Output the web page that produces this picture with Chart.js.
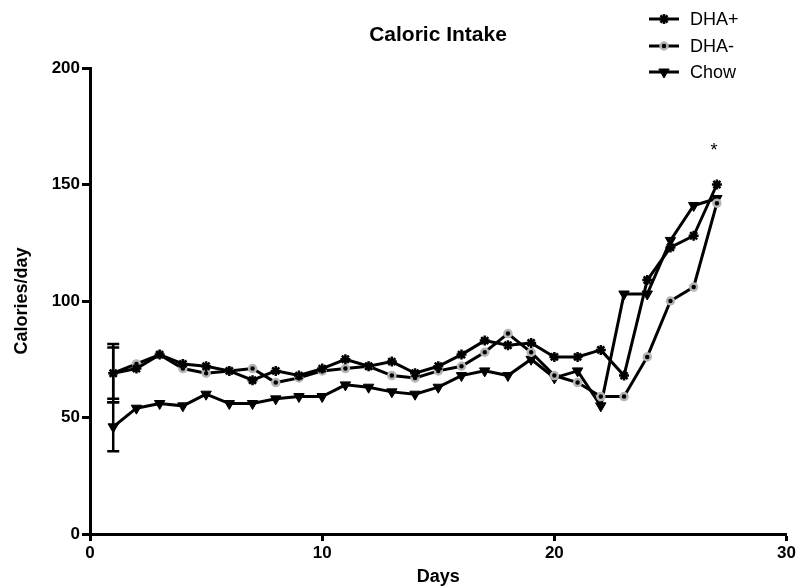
<!DOCTYPE html>
<html>
<head>
<meta charset="utf-8">
<title>Caloric Intake</title>
<script src="https://cdn.jsdelivr.net/npm/chart.js@4/dist/chart.umd.min.js"></script>
<style>
  html, body { margin: 0; padding: 0; background: #fff; }
  canvas { display: block; }
</style>
</head>
<body>
<canvas id="chart" width="798" height="586"></canvas>
<script>
// Daily caloric intake per group (calories/day)
const days = [1, 2, 3, 4, 5, 6, 7, 8, 9, 10, 11, 12, 13, 14, 15, 16, 17, 18, 19, 20, 21, 22, 23, 24, 25, 26, 27];
const dhaPlus  = [69, 71, 77, 73, 72, 70, 66, 70, 68, 71, 75, 72, 74, 69, 72, 77, 83, 81, 82, 76, 76, 79, 68, 109, 123, 128, 150];
const dhaMinus = [69, 73, 77, 71, 69, 70, 71, 65, 67, 70, 71, 72, 68, 67, 70, 72, 78, 86, 78, 68, 65, 59, 59, 76, 100, 106, 142];
const chow     = [46, 54, 56, 55, 60, 56, 56, 58, 59, 59, 64, 63, 61, 60, 63, 68, 70, 68, 75, 67, 70, 55, 103, 103, 126, 141, 144];

// Error (SEM) shown on day 1 only
const errorDay = 1;
const dhaPlusErr = 12.5;
const dhaMinusErr = 11;
const chowErr = 10.5;

// Significance marker
const sigDay = 27;
const sigValue = 166;
const sigText = '*';

const xTicks = [0, 10, 20, 30];
const yTicks = [0, 50, 100, 150, 200];

const FONT = "'Liberation Sans', Arial, Helvetica, sans-serif";

const toPoints = (ys) => days.map((d, i) => ({ x: d, y: ys[i] }));

const datasets = [
  {
    label: 'DHA+',
    data: toPoints(dhaPlus),
    err: dhaPlusErr,
    borderColor: '#000',
    borderWidth: 3,
    pointStyle: 'star',
    pointRadius: 5,
    pointBorderWidth: 2.5,
    pointBorderColor: '#000',
    pointBackgroundColor: '#000'
  },
  {
    label: 'DHA-',
    data: toPoints(dhaMinus),
    err: dhaMinusErr,
    borderColor: '#000',
    borderWidth: 3,
    pointStyle: 'circle',
    pointRadius: 3.5,
    pointBorderWidth: 2.5,
    pointBorderColor: '#b5b5b5',
    pointBackgroundColor: '#000'
  },
  {
    label: 'Chow',
    data: toPoints(chow),
    err: chowErr,
    borderColor: '#000',
    borderWidth: 3,
    pointStyle: 'triangle',
    pointRotation: 180,
    pointRadius: 6,
    pointBorderWidth: 1,
    pointBorderColor: '#000',
    pointBackgroundColor: '#000'
  }
];

// Vertical error bars with caps at the chosen day
const errorBars = {
  id: 'errorBars',
  beforeDatasetsDraw(chart) {
    const { ctx, scales: { x, y } } = chart;
    ctx.save();
    ctx.strokeStyle = '#000';
    ctx.lineWidth = 2.5;
    chart.data.datasets.forEach((ds) => {
      const p = ds.data.find(pt => pt.x === errorDay);
      if (!p) return;
      const px = x.getPixelForValue(p.x);
      const top = y.getPixelForValue(p.y + ds.err);
      const bot = y.getPixelForValue(p.y - ds.err);
      ctx.beginPath();
      ctx.moveTo(px, top); ctx.lineTo(px, bot);
      ctx.moveTo(px - 6, top); ctx.lineTo(px + 6, top);
      ctx.moveTo(px - 6, bot); ctx.lineTo(px + 6, bot);
      ctx.stroke();
    });
    ctx.restore();
  }
};

// Title, legend and significance marker
const decorations = {
  id: 'decorations',
  afterDraw(chart) {
    const { ctx, scales: { x, y } } = chart;
    ctx.save();
    ctx.fillStyle = '#000';

    ctx.font = 'bold 21px ' + FONT;
    ctx.textAlign = 'center';
    ctx.textBaseline = 'middle';
    ctx.fillText('Caloric Intake', 438, 35);

    ctx.font = '18px ' + FONT;
    ctx.textAlign = 'center';
    ctx.textBaseline = 'middle';
    ctx.fillText(sigText, x.getPixelForValue(sigDay) - 3, y.getPixelForValue(sigValue) + 4);

    const rows = [19, 46, 72];
    chart.data.datasets.forEach((ds, i) => {
      const yy = rows[i];
      ctx.strokeStyle = '#000';
      ctx.lineWidth = 3;
      ctx.beginPath();
      ctx.moveTo(649, yy); ctx.lineTo(679, yy);
      ctx.stroke();
      ctx.fillStyle = ds.pointBackgroundColor;
      ctx.strokeStyle = ds.pointBorderColor;
      ctx.lineWidth = ds.pointBorderWidth;
      Chart.helpers.drawPoint(ctx, {
        pointStyle: ds.pointStyle,
        radius: ds.pointRadius,
        rotation: ds.pointRotation || 0,
        borderWidth: ds.pointBorderWidth
      }, 664, yy);
      ctx.fillStyle = '#000';
      ctx.font = '18px ' + FONT;
      ctx.textAlign = 'left';
      ctx.textBaseline = 'middle';
      ctx.fillText(ds.label, 690, yy + 1);
    });
    ctx.restore();
  }
};

new Chart(document.getElementById('chart'), {
  type: 'line',
  data: { datasets },
  plugins: [errorBars, decorations],
  options: {
    responsive: false,
    animation: false,
    clip: false,
    layout: { padding: { top: 68, right: 8, left: 0, bottom: 0 } },
    plugins: {
      legend: { display: false },
      title: { display: false },
      tooltip: { enabled: false }
    },
    elements: { line: { tension: 0 } },
    scales: {
      x: {
        type: 'linear',
        min: 0,
        max: 30,
        afterFit(scale) { scale.height = 52; },
        afterBuildTicks(scale) { scale.ticks = xTicks.map(v => ({ value: v })); },
        border: { color: '#000', width: 3 },
        grid: { drawOnChartArea: false, drawTicks: true, tickLength: 7, tickWidth: 3, tickColor: '#000' },
        ticks: { color: '#000', padding: 2, maxRotation: 0, font: { family: FONT, size: 17, weight: 'bold' } },
        title: {
          display: true,
          text: 'Days',
          color: '#000',
          padding: { top: 0, bottom: 0 },
          font: { family: FONT, size: 18, weight: 'bold', lineHeight: 1.0 }
        }
      },
      y: {
        type: 'linear',
        min: 0,
        max: 200,
        afterFit(scale) { scale.width = 90; },
        afterBuildTicks(scale) { scale.ticks = yTicks.map(v => ({ value: v })); },
        border: { color: '#000', width: 3 },
        grid: { drawOnChartArea: false, drawTicks: true, tickLength: 8, tickWidth: 3, tickColor: '#000' },
        ticks: { color: '#000', padding: 2, font: { family: FONT, size: 17, weight: 'bold' } },
        title: {
          display: true,
          text: 'Calories/day',
          color: '#000',
          padding: { top: 11, bottom: 0 },
          font: { family: FONT, size: 18, weight: 'bold' }
        }
      }
    }
  }
});
</script>
</body>
</html>
